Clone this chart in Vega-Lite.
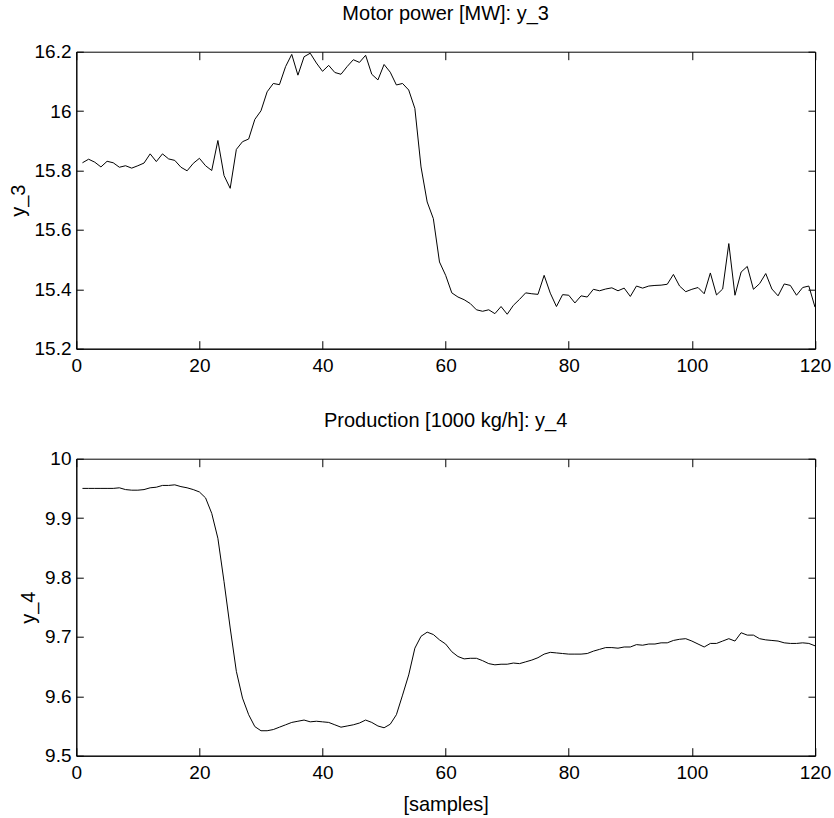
{
  "$schema": "https://vega.github.io/schema/vega-lite/v6.json",
  "autosize": {"type": "none"},
  "padding": {"left": 76.3, "top": 51.7, "right": 757.7, "bottom": 766.3},
  "background": "white",
  "bounds": "flush",
  "spacing": 110,
  "config": {
    "font": "Liberation Sans",
    "view": {"stroke": "black", "strokeWidth": 1},
    "axis": {
      "labelFont": "Liberation Sans", "labelFontSize": 19, "labelColor": "black",
      "titleFont": "Liberation Sans", "titleFontSize": 20, "titleFontWeight": "normal", "titleColor": "black",
      "domainColor": "black", "tickColor": "black", "grid": false,
      "labelFlush": false, "labelOverlap": false, "labelBound": false
    },
    "axisX": {"tickSize": -8, "labelPadding": 15.7, "titlePadding": 12},
    "axisY": {"tickSize": -7, "labelPadding": 12.3, "titlePadding": 6},
    "title": {"font": "Liberation Sans", "fontSize": 20, "fontWeight": "normal", "color": "black", "baseline": "alphabetic", "offset": 19, "frame": "group"}
  },
  "datasets": {
    "d": [
      {"k":1,"y3":15.826,"y4":9.950},{"k":2,"y3":15.838,"y4":9.950},{"k":3,"y3":15.828,"y4":9.950},{"k":4,"y3":15.812,"y4":9.950},
      {"k":5,"y3":15.831,"y4":9.950},{"k":6,"y3":15.826,"y4":9.950},{"k":7,"y3":15.811,"y4":9.951},{"k":8,"y3":15.816,"y4":9.948},
      {"k":9,"y3":15.808,"y4":9.947},{"k":10,"y3":15.816,"y4":9.947},{"k":11,"y3":15.825,"y4":9.948},{"k":12,"y3":15.856,"y4":9.951},
      {"k":13,"y3":15.830,"y4":9.952},{"k":14,"y3":15.856,"y4":9.955},{"k":15,"y3":15.839,"y4":9.955},{"k":16,"y3":15.834,"y4":9.956},
      {"k":17,"y3":15.811,"y4":9.953},{"k":18,"y3":15.799,"y4":9.951},{"k":19,"y3":15.824,"y4":9.948},{"k":20,"y3":15.841,"y4":9.944},
      {"k":21,"y3":15.816,"y4":9.934},{"k":22,"y3":15.800,"y4":9.908},{"k":23,"y3":15.901,"y4":9.866},{"k":24,"y3":15.783,"y4":9.793},
      {"k":25,"y3":15.740,"y4":9.715},{"k":26,"y3":15.871,"y4":9.642},{"k":27,"y3":15.897,"y4":9.597},{"k":28,"y3":15.906,"y4":9.569},
      {"k":29,"y3":15.972,"y4":9.549},{"k":30,"y3":16.001,"y4":9.542},{"k":31,"y3":16.065,"y4":9.542},{"k":32,"y3":16.093,"y4":9.544},
      {"k":33,"y3":16.089,"y4":9.548},{"k":34,"y3":16.150,"y4":9.552},{"k":35,"y3":16.191,"y4":9.556},{"k":36,"y3":16.121,"y4":9.558},
      {"k":37,"y3":16.183,"y4":9.560},{"k":38,"y3":16.195,"y4":9.557},{"k":39,"y3":16.162,"y4":9.558},{"k":40,"y3":16.134,"y4":9.557},
      {"k":41,"y3":16.154,"y4":9.556},{"k":42,"y3":16.130,"y4":9.552},{"k":43,"y3":16.124,"y4":9.548},{"k":44,"y3":16.150,"y4":9.550},
      {"k":45,"y3":16.173,"y4":9.552},{"k":46,"y3":16.164,"y4":9.555},{"k":47,"y3":16.188,"y4":9.560},{"k":48,"y3":16.124,"y4":9.556},
      {"k":49,"y3":16.105,"y4":9.550},{"k":50,"y3":16.157,"y4":9.547},{"k":51,"y3":16.131,"y4":9.553},{"k":52,"y3":16.088,"y4":9.569},
      {"k":53,"y3":16.093,"y4":9.602},{"k":54,"y3":16.071,"y4":9.636},{"k":55,"y3":16.009,"y4":9.681},{"k":56,"y3":15.812,"y4":9.701},
      {"k":57,"y3":15.694,"y4":9.708},{"k":58,"y3":15.638,"y4":9.704},{"k":59,"y3":15.492,"y4":9.695},{"k":60,"y3":15.447,"y4":9.688},
      {"k":61,"y3":15.388,"y4":9.675},{"k":62,"y3":15.374,"y4":9.667},{"k":63,"y3":15.365,"y4":9.663},{"k":64,"y3":15.352,"y4":9.664},
      {"k":65,"y3":15.331,"y4":9.664},{"k":66,"y3":15.326,"y4":9.660},{"k":67,"y3":15.331,"y4":9.655},{"k":68,"y3":15.318,"y4":9.653},
      {"k":69,"y3":15.342,"y4":9.654},{"k":70,"y3":15.316,"y4":9.654},{"k":71,"y3":15.346,"y4":9.656},{"k":72,"y3":15.366,"y4":9.655},
      {"k":73,"y3":15.388,"y4":9.658},{"k":74,"y3":15.385,"y4":9.661},{"k":75,"y3":15.383,"y4":9.665},{"k":76,"y3":15.447,"y4":9.671},
      {"k":77,"y3":15.387,"y4":9.674},{"k":78,"y3":15.342,"y4":9.673},{"k":79,"y3":15.382,"y4":9.672},{"k":80,"y3":15.380,"y4":9.671},
      {"k":81,"y3":15.354,"y4":9.671},{"k":82,"y3":15.378,"y4":9.671},{"k":83,"y3":15.374,"y4":9.672},{"k":84,"y3":15.400,"y4":9.676},
      {"k":85,"y3":15.395,"y4":9.679},{"k":86,"y3":15.401,"y4":9.682},{"k":87,"y3":15.405,"y4":9.682},{"k":88,"y3":15.395,"y4":9.681},
      {"k":89,"y3":15.404,"y4":9.683},{"k":90,"y3":15.376,"y4":9.683},{"k":91,"y3":15.411,"y4":9.687},{"k":92,"y3":15.404,"y4":9.686},
      {"k":93,"y3":15.411,"y4":9.688},{"k":94,"y3":15.413,"y4":9.688},{"k":95,"y3":15.414,"y4":9.690},{"k":96,"y3":15.417,"y4":9.690},
      {"k":97,"y3":15.450,"y4":9.694},{"k":98,"y3":15.411,"y4":9.696},{"k":99,"y3":15.392,"y4":9.697},{"k":100,"y3":15.400,"y4":9.693},
      {"k":101,"y3":15.406,"y4":9.688},{"k":102,"y3":15.385,"y4":9.683},{"k":103,"y3":15.455,"y4":9.689},{"k":104,"y3":15.381,"y4":9.689},
      {"k":105,"y3":15.401,"y4":9.693},{"k":106,"y3":15.554,"y4":9.697},{"k":107,"y3":15.380,"y4":9.693},{"k":108,"y3":15.458,"y4":9.707},
      {"k":109,"y3":15.477,"y4":9.703},{"k":110,"y3":15.400,"y4":9.703},{"k":111,"y3":15.419,"y4":9.697},{"k":112,"y3":15.453,"y4":9.695},
      {"k":113,"y3":15.401,"y4":9.694},{"k":114,"y3":15.378,"y4":9.693},{"k":115,"y3":15.418,"y4":9.690},{"k":116,"y3":15.413,"y4":9.689},
      {"k":117,"y3":15.380,"y4":9.689},{"k":118,"y3":15.406,"y4":9.690},{"k":119,"y3":15.411,"y4":9.689},{"k":120,"y3":15.340,"y4":9.685}
    ]
  },
  "vconcat": [
    {
      "width": 738.7, "height": 297,
      "title": {"text": "Motor power [MW]: y_3"},
      "data": {"name": "d"},
      "layer": [
        {
          "mark": {"type": "line", "color": "black", "strokeWidth": 1},
          "encoding": {
            "x": {"field": "k", "type": "quantitative", "scale": {"domain": [0, 120], "nice": false, "zero": false},
                  "axis": {"orient": "bottom", "values": [0, 20, 40, 60, 80, 100, 120], "format": "~r", "title": null}},
            "y": {"field": "y3", "type": "quantitative", "scale": {"domain": [15.2, 16.2], "nice": false, "zero": false},
                  "axis": {"orient": "left", "values": [15.2, 15.4, 15.6, 15.8, 16, 16.2], "format": "~r", "title": "y_3"}}
          }
        },
        {
          "mark": {"type": "line", "opacity": 0},
          "encoding": {
            "x": {"field": "k", "type": "quantitative",
                  "axis": {"orient": "top", "values": [0, 20, 40, 60, 80, 100, 120], "labels": false, "domain": false, "title": null}},
            "y": {"field": "y3", "type": "quantitative",
                  "axis": {"orient": "right", "values": [15.2, 15.4, 15.6, 15.8, 16, 16.2], "labels": false, "domain": false, "title": null}}
          }
        }
      ],
      "resolve": {"axis": {"x": "independent", "y": "independent"}}
    },
    {
      "width": 738.7, "height": 297,
      "title": {"text": "Production [1000 kg/h]: y_4"},
      "data": {"name": "d"},
      "layer": [
        {
          "mark": {"type": "line", "color": "black", "strokeWidth": 1},
          "encoding": {
            "x": {"field": "k", "type": "quantitative", "scale": {"domain": [0, 120], "nice": false, "zero": false},
                  "axis": {"orient": "bottom", "values": [0, 20, 40, 60, 80, 100, 120], "format": "~r", "title": "[samples]"}},
            "y": {"field": "y4", "type": "quantitative", "scale": {"domain": [9.5, 10], "nice": false, "zero": false},
                  "axis": {"orient": "left", "values": [9.5, 9.6, 9.7, 9.8, 9.9, 10], "format": "~r", "title": "y_4"}}
          }
        },
        {
          "mark": {"type": "line", "opacity": 0},
          "encoding": {
            "x": {"field": "k", "type": "quantitative",
                  "axis": {"orient": "top", "values": [0, 20, 40, 60, 80, 100, 120], "labels": false, "domain": false, "title": null}},
            "y": {"field": "y4", "type": "quantitative",
                  "axis": {"orient": "right", "values": [9.5, 9.6, 9.7, 9.8, 9.9, 10], "labels": false, "domain": false, "title": null}}
          }
        }
      ],
      "resolve": {"axis": {"x": "independent", "y": "independent"}}
    }
  ]
}
